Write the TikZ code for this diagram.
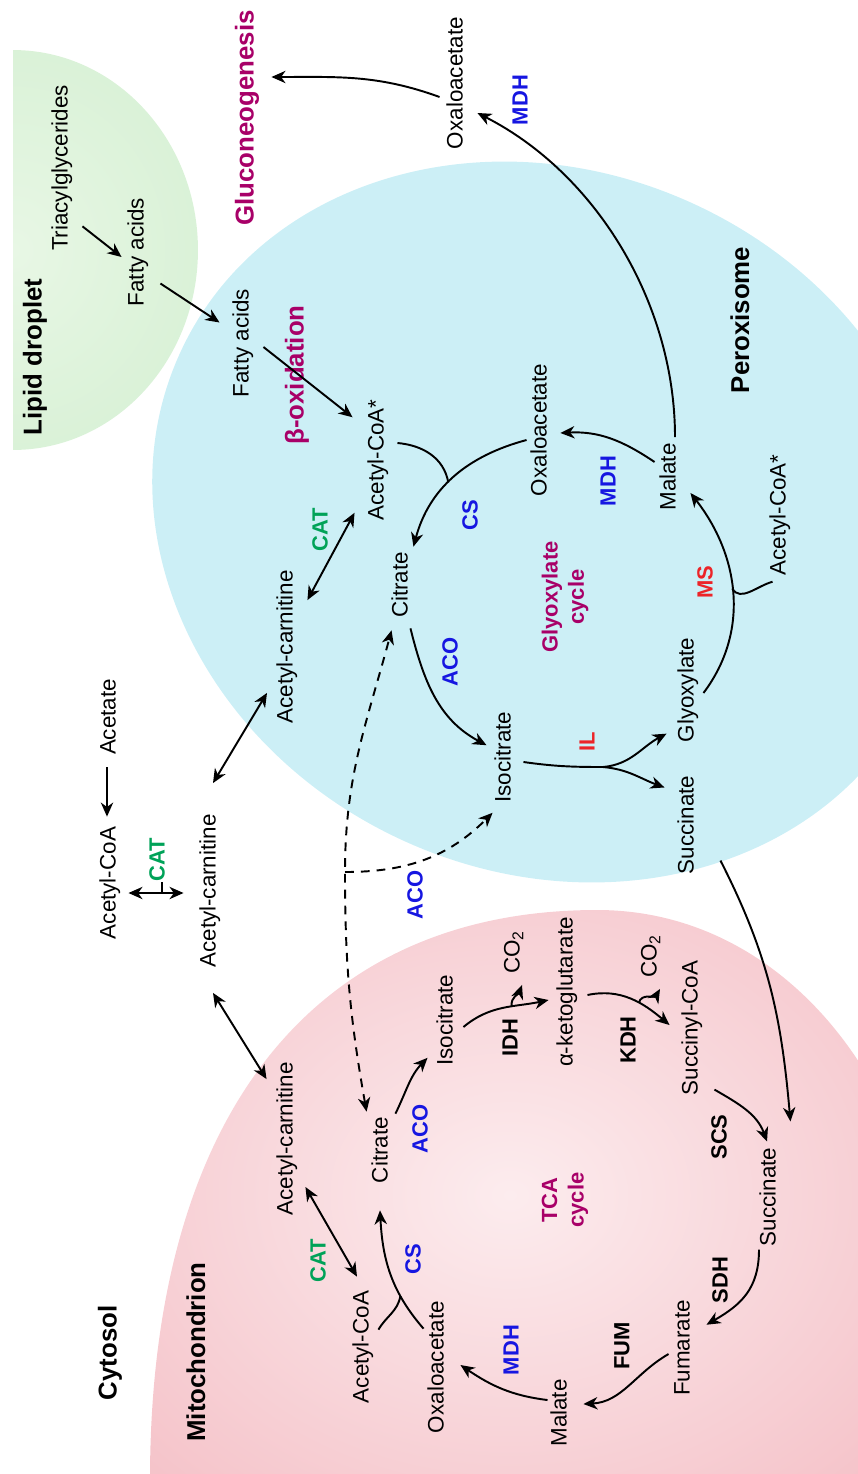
\documentclass[tikz,border=0pt]{standalone}
\usepackage{fontspec}
\setmainfont{Liberation Sans}
\usetikzlibrary{arrows.meta,calc,positioning}
\definecolor{enzblue}{RGB}{22,22,225}
\definecolor{catgreen}{RGB}{0,162,88}
\definecolor{enzred}{RGB}{236,36,40}
\definecolor{pathmag}{RGB}{168,0,104}
\definecolor{peroxfill}{RGB}{204,239,246}
\definecolor{lipidin}{RGB}{232,247,229}
\definecolor{lipidout}{RGB}{204,236,202}
\definecolor{mitoin}{RGB}{252,236,238}
\definecolor{mitoout}{RGB}{242,178,186}
\pgfdeclareradialshading{lipidglow}{\pgfpoint{0bp}{0bp}}{color(0bp)=(lipidin); color(50bp)=(lipidout)}
\pgfdeclareradialshading{mitoglow}{\pgfpoint{0bp}{0bp}}{color(0bp)=(mitoin); color(50bp)=(mitoout)}
\def\blu(#1){\textcolor{enzblue}{#1}}
\def\grn(#1){\textcolor{catgreen}{#1}}
\def\rd(#1){\textcolor{enzred}{#1}}
\def\pth(#1){\textcolor{pathmag}{#1}}
\tikzstyle{met} = [rotate=90, inner sep=0pt, text height=9pt, text depth=2.5pt, font=\fontsize{12.75}{15}\selectfont]
\tikzstyle{enz} = [rotate=90, inner sep=0pt, font=\bfseries\fontsize{12.5}{15}\selectfont]
\tikzstyle{comp} = [rotate=90, inner sep=0pt, font=\bfseries\fontsize{14.7}{17}\selectfont]
\tikzstyle{rxn} = [line width=1.1pt, -{Stealth[length=8pt,width=7pt,inset=2.5pt]}]
\tikzstyle{twoway} = [line width=1.1pt, {Stealth[length=8pt,width=7pt,inset=2.5pt]}-{Stealth[length=8pt,width=7pt,inset=2.5pt]}]
\tikzstyle{feed} = [line width=1.1pt]
\tikzstyle{shuttle} = [line width=1.1pt, dash pattern=on 5pt off 4pt]

\begin{document}
\begin{tikzpicture}[x=0.02cm, y=-0.02cm]
\useasboundingbox (0,0) rectangle (858,1474);
\clip (0,0) rectangle (858,1474);
% compartments
\begin{scope}
\clip (13,0) rectangle (300,520);
\shade[shading=lipidglow] (13,250) ellipse [x radius=3.7cm, y radius=4cm];
\end{scope}
\fill[peroxfill, rotate around={-25:(548,522)}] (548,522) ellipse [x radius=8.1cm, y radius=7cm];
\shade[shading=mitoglow] (150,1480) .. controls (150,1120) and (310,910) .. (597,910)
  .. controls (720,910) and (815,985) .. (870,1080) -- (870,1480) -- cycle;

\node[comp] (lipid) at (35,357) {Lipid droplet};
\node[comp] (perox) at (740,320) {Peroxisome};
\node[comp] (cyto) at (110,1353) {Cytosol};
\node[comp] (mito) at (196,1352) {Mitochondrion};
\node[comp] (gluco) at (247,118) {\pth(Gluconeogenesis)};
\node[comp] (boxid) at (297,375) {\pth(β-oxidation)};
\node[enz, align=center, text=pathmag] (gcyc) at (565,597) {Glyoxylate\\cycle};
\node[enz, align=center, text=pathmag] (tcyc) at (565,1200) {TCA\\cycle};

% metabolites
\node[met] (tag) at (62,168) {Triacylglycerides};
\node[met] (fa1) at (138,252) {Fatty acids};
\node[met] (fa2) at (243,343) {Fatty acids};
\node[met] (oaa0) at (457,83) {Oxaloacetate};
\node[met] (aca1) at (378,460) {Acetyl-CoA*};
\node[met] (oaa1) at (541,430) {Oxaloacetate};
\node[met] (mal1) at (670,477) {Malate};
\node[met] (aca2) at (780,515) {Acetyl-CoA*};
\node[met] (cit1) at (402,585) {Citrate};
\node[met] (acn1) at (287,647) {Acetyl-carnitine};
\node[met] (glx) at (688,690) {Glyoxylate};
\node[met] (act) at (110,717) {Acetate};
\node[met] (iso1) at (505,757) {Isocitrate};
\node[met] (suc1) at (688,825) {Succinate};
\node[met] (acc) at (110,883) {Acetyl-CoA};
\node[met] (acn0) at (210,891) {Acetyl-carnitine};
\node[met] (iso2) at (447,1020) {Isocitrate};
\node[met] (co1) at (514,952) {CO\textsubscript{2}};
\node[met] (akg) at (567,992) {α-ketoglutarate};
\node[met] (co2) at (651,956) {CO\textsubscript{2}};
\node[met] (sca) at (692,1028) {Succinyl-CoA};
\node[met] (acn2) at (287,1139) {Acetyl-carnitine};
\node[met] (cit2) at (382,1150) {Citrate};
\node[met] (suc2) at (770,1197) {Succinate};
\node[met] (aca3) at (363,1347) {Acetyl-CoA};
\node[met] (oaa2) at (438,1367) {Oxaloacetate};
\node[met] (fum) at (684,1348) {Fumarate};
\node[met] (mal2) at (561,1413) {Malate};

% enzymes
\node[enz] (mdh0) at (520,100) {\blu(MDH)};
\node[enz] (cat1) at (320,530) {\grn(CAT)};
\node[enz] (cs1) at (470,515) {\blu(CS)};
\node[enz] (mdh1) at (608,481) {\blu(MDH)};
\node[enz] (ms) at (705,582) {\rd(MS)};
\node[enz] (aco2) at (450,662) {\blu(ACO)};
\node[enz] (il) at (587,742) {\rd(IL)};
\node[enz] (cat0) at (157,860) {\grn(CAT)};
\node[enz] (aco1) at (415,895) {\blu(ACO)};
\node[enz] (idh) at (510,1038) {IDH};
\node[enz] (kdh) at (628,1040) {KDH};
\node[enz] (aco3) at (420,1129) {\blu(ACO)};
\node[enz] (scs) at (719,1137) {SCS};
\node[enz] (sdh) at (720,1280) {SDH};
\node[enz] (cat2) at (318,1261) {\grn(CAT)};
\node[enz] (cs2) at (413,1259) {\blu(CS)};
\node[enz] (mdh2) at (511,1350) {\blu(MDH)};
\node[enz] (fumz) at (622,1346) {FUM};

\coordinate (ilj) at (603,767);
\coordinate (jn) at (345,872);

% lipid droplet -> peroxisome
\draw[rxn] ($(tag.south west)+(10,-25)$) -- ($(fa1.north)+(-6,5)$);
\draw[rxn] ($(fa1.south west)+(12,-23)$) -- ($(fa2.north east)+(-13,34)$);
\draw[rxn] ($(fa2.south)+(10,4)$) -- ($(aca1.north east)+(-15,18)$);
\draw[rxn] ($(mal1.east)+(5,-6)$) to[out=90,in=-27,looseness=0.9] ($(oaa0.south)+(10,30)$);
\draw[rxn] ($(oaa0.north)+(-7,14)$) to[out=160,in=0] ($(gluco.south)+(12,-41)$);

% glyoxylate cycle
\draw[rxn] ($(oaa1.north)+(-4,10)$) to[out=195,in=75] coordinate[pos=0.55] (csj) ($(cit1.south east)+(1,-5)$);
\draw[feed] ($(aca1.south)+(9,-17)$) to[out=-5,in=100] (csj);
\draw[rxn] ($(cit1.south west)+(-2,10)$) to[out=-76,in=152] ($(iso1.north east)+(-8,34)$);
\draw[feed] ($(iso1.south)+(8,5)$) to[out=-8,in=180] (ilj);
\draw[rxn] (ilj) to[out=5,in=208] ($(glx.north west)+(-11,-9)$);
\draw[rxn] (ilj) to[out=-5,in=160] ($(suc1.north east)+(-13,12)$);
\draw[rxn] ($(glx.south)+(5,3)$) to[out=53,in=-52] coordinate[pos=0.52] (msj) ($(mal1.south west)+(10,-18)$);
\draw[feed] ($(aca2.north west)+(3,6)$) to[out=195,in=-60] (msj);
\draw[rxn] ($(mal1.north)+(-5,-15)$) to[out=146,in=3] ($(oaa1.south)+(9,3)$);

% cytosol
\draw[twoway] ($(acn1.south east)+(10,30)$) -- ($(aca1.north west)+(-13,-8)$);
\draw[twoway] ($(acn0.east)+(3,-31)$) -- ($(acn1.west)+(-20,-31)$);
\draw[rxn] ($(act.west)+(-3,12)$) -- ($(acc.east)+(-3,-10)$);
\draw[twoway] ($(acc.south)+(8,10)$) -- ($(acn0.north)+(-16,2)$);
\draw[feed] ($(cat0.south west)+(-3,0)$) -- ++(0,11);
\draw[shuttle, {Stealth[length=8pt,width=7pt,inset=2.5pt]}-{Stealth[length=8pt,width=7pt,inset=2.5pt]}]
  ($(cit2.north east)+(-5,-5)$) to[out=100,in=-90] (jn) to[out=90,in=-105] ($(cit1.north west)+(0,12)$);
\draw[shuttle, -{Stealth[length=8pt,width=7pt,inset=2.5pt]}] (jn) to[out=0,in=-135] ($(iso1.north west)+(-2,10)$);

% TCA cycle
\draw[twoway] ($(acn0.west)+(3,25)$) -- ($(acn2.north east)+(-10,17)$);
\draw[twoway] ($(acn2.south)+(8,48)$) -- ($(aca3.east)+(-6,-14)$);
\draw[rxn] ($(oaa2.north east)+(-4,28)$) to[out=131,in=-87] coordinate[pos=0.3] (csk) ($(cit2.west)+(-2,27)$);
\draw[feed] ($(aca3.south east)+(5,39)$) to[out=60,in=-100] (csk);
\draw[rxn] ($(cit2.south east)+(3,-3)$) to[out=64,in=-134] ($(iso2.north west)+(-9,-8)$);
\draw[rxn] ($(iso2.south)+(6,7)$) to[out=40,in=192] coordinate[pos=0.6] (idj) ($(akg.north)+(-8,8)$);
\draw[rxn] (idj) to[out=95,in=-110] ($(co1.west)+(8,11)$);
\draw[rxn] ($(akg.south)+(10,3)$) to[out=12,in=140] coordinate[pos=0.6] (kdj) ($(sca.north)+(-12,-3)$);
\draw[rxn] (kdj) to[out=80,in=-120] ($(co2.west)+(9,11)$);
\draw[rxn] ($(sca.south west)+(12,-6)$) to[out=-30,in=110] ($(suc2.east)+(-3,-6)$);
\draw[rxn] ($(suc1.south west)+(22,-14)$) to[out=-63,in=95] ($(suc2.south east)+(10,-26)$);
\draw[rxn] ($(suc2.west)+(-11,3)$) to[out=-90,in=30,looseness=1.1] ($(fum.south east)+(12,25)$);
\draw[rxn] ($(fum.north)+(-5,6)$) to[out=-150,in=3] ($(mal2.south)+(12,-9)$);
\draw[rxn] ($(mal2.north east)+(-3,21)$) to[out=173,in=-34] ($(oaa2.south)+(12,-2)$);
\end{tikzpicture}
\end{document}
